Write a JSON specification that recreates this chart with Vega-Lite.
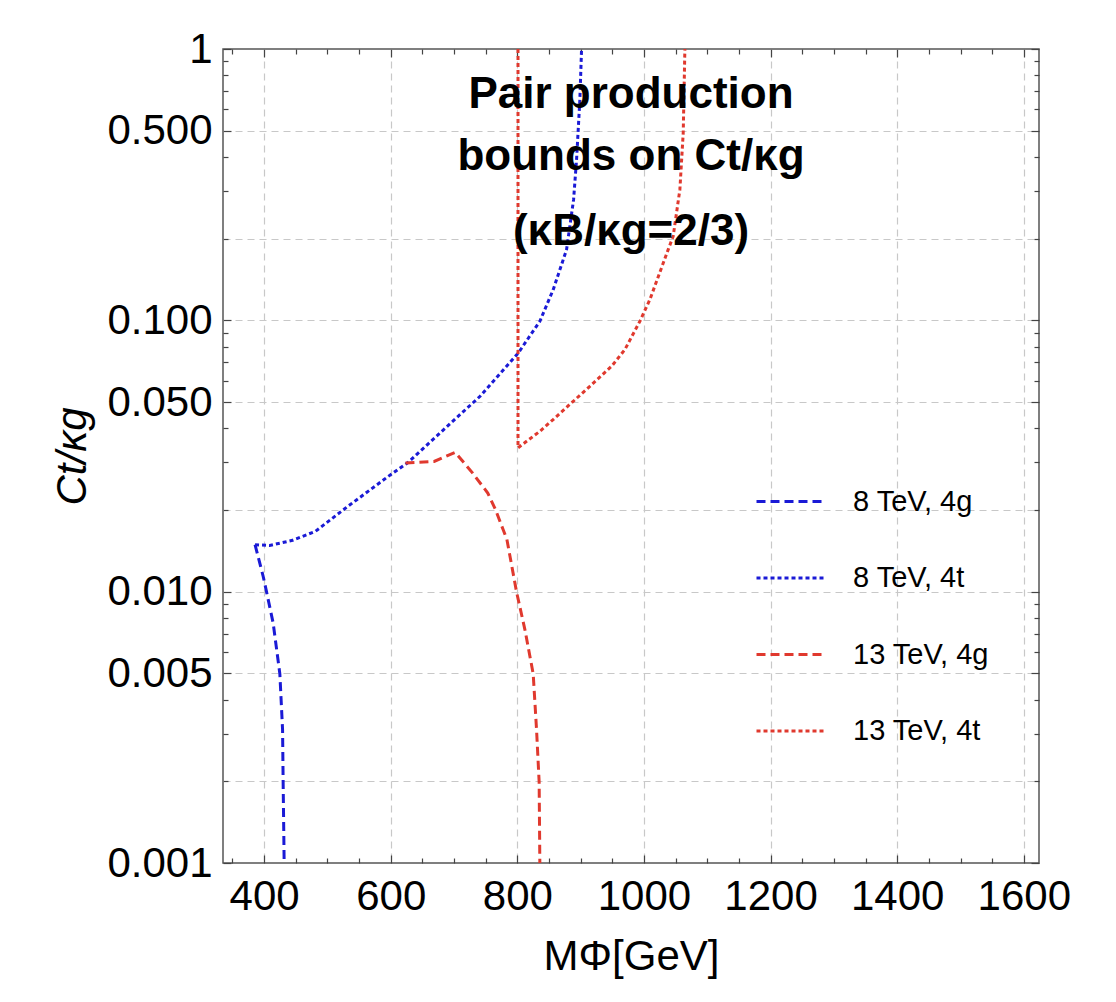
{
  "$schema": "https://vega.github.io/schema/vega-lite/v6.json",
  "autosize": {"type": "none"},
  "padding": {"left": 223, "top": 49, "right": 77, "bottom": 139},
  "width": 816,
  "height": 814,
  "background": "white",
  "config": {
    "font": "Liberation Sans",
    "view": {"stroke": "#555555", "strokeWidth": 1.5},
    "axis": {"domain": false, "tickColor": "#444444", "tickWidth": 1.2, "labelColor": "black", "titleColor": "black", "labelFont": "Liberation Sans", "titleFont": "Liberation Sans"}
  },
  "title": {
    "text": ["Pair production", "bounds on Ct/κg"],
    "subtitle": "(κB/κg=2/3)",
    "anchor": "middle",
    "frame": "group",
    "font": "Liberation Sans",
    "subtitleFont": "Liberation Sans",
    "fontSize": 44,
    "subtitleFontSize": 44,
    "fontWeight": "bold",
    "subtitleFontWeight": "bold",
    "color": "black",
    "subtitleColor": "black",
    "lineHeight": 62,
    "subtitleLineHeight": 62,
    "subtitlePadding": 31,
    "offset": -226
  },
  "data": {
    "values": [
      {"s": "8 TeV, 4g", "i": 1, "m": 385.6, "c": 0.0149},
      {"s": "8 TeV, 4g", "i": 2, "m": 398.4, "c": 0.0114},
      {"s": "8 TeV, 4g", "i": 3, "m": 403.8, "c": 0.00998},
      {"s": "8 TeV, 4g", "i": 4, "m": 414.2, "c": 0.00767},
      {"s": "8 TeV, 4g", "i": 5, "m": 424.8, "c": 0.00498},
      {"s": "8 TeV, 4g", "i": 6, "m": 429.1, "c": 0.0031},
      {"s": "8 TeV, 4g", "i": 7, "m": 430.0, "c": 0.00199},
      {"s": "8 TeV, 4g", "i": 8, "m": 431.6, "c": 0.001},

      {"s": "8 TeV, 4t", "i": 1, "m": 385.6, "c": 0.0149},
      {"s": "8 TeV, 4t", "i": 2, "m": 408.7, "c": 0.0148},
      {"s": "8 TeV, 4t", "i": 3, "m": 444.9, "c": 0.01546},
      {"s": "8 TeV, 4t", "i": 4, "m": 481.2, "c": 0.0167},
      {"s": "8 TeV, 4t", "i": 5, "m": 529.5, "c": 0.0204},
      {"s": "8 TeV, 4t", "i": 6, "m": 596.1, "c": 0.0266},
      {"s": "8 TeV, 4t", "i": 7, "m": 626.2, "c": 0.0298},
      {"s": "8 TeV, 4t", "i": 8, "m": 680.7, "c": 0.039},
      {"s": "8 TeV, 4t", "i": 9, "m": 741.1, "c": 0.0525},
      {"s": "8 TeV, 4t", "i": 10, "m": 801.6, "c": 0.0759},
      {"s": "8 TeV, 4t", "i": 11, "m": 835.5, "c": 0.0992},
      {"s": "8 TeV, 4t", "i": 12, "m": 856.6, "c": 0.1297},
      {"s": "8 TeV, 4t", "i": 13, "m": 877.7, "c": 0.1822},
      {"s": "8 TeV, 4t", "i": 14, "m": 888.8, "c": 0.2785},
      {"s": "8 TeV, 4t", "i": 15, "m": 893.5, "c": 0.391},
      {"s": "8 TeV, 4t", "i": 16, "m": 898.7, "c": 0.65},
      {"s": "8 TeV, 4t", "i": 17, "m": 901.4, "c": 1.0},

      {"s": "13 TeV, 4g", "i": 1, "m": 623.2, "c": 0.0298},
      {"s": "13 TeV, 4g", "i": 2, "m": 668.6, "c": 0.0302},
      {"s": "13 TeV, 4g", "i": 3, "m": 701.9, "c": 0.0326},
      {"s": "13 TeV, 4g", "i": 4, "m": 729.1, "c": 0.0274},
      {"s": "13 TeV, 4g", "i": 5, "m": 753.2, "c": 0.0231},
      {"s": "13 TeV, 4g", "i": 6, "m": 765.3, "c": 0.0201},
      {"s": "13 TeV, 4g", "i": 7, "m": 777.6, "c": 0.0169},
      {"s": "13 TeV, 4g", "i": 8, "m": 783.4, "c": 0.0156},
      {"s": "13 TeV, 4g", "i": 9, "m": 798.7, "c": 0.00998},
      {"s": "13 TeV, 4g", "i": 10, "m": 811.9, "c": 0.00725},
      {"s": "13 TeV, 4g", "i": 11, "m": 825.0, "c": 0.00498},
      {"s": "13 TeV, 4g", "i": 12, "m": 830.3, "c": 0.0031},
      {"s": "13 TeV, 4g", "i": 13, "m": 834.4, "c": 0.00199},
      {"s": "13 TeV, 4g", "i": 14, "m": 835.5, "c": 0.001},

      {"s": "13 TeV, 4t", "i": 1, "m": 801.0, "c": 1.0},
      {"s": "13 TeV, 4t", "i": 2, "m": 801.0, "c": 0.0339},
      {"s": "13 TeV, 4t", "i": 3, "m": 835.5, "c": 0.039},
      {"s": "13 TeV, 4t", "i": 4, "m": 856.6, "c": 0.0431},
      {"s": "13 TeV, 4t", "i": 5, "m": 888.2, "c": 0.0503},
      {"s": "13 TeV, 4t", "i": 6, "m": 914.5, "c": 0.0571},
      {"s": "13 TeV, 4t", "i": 7, "m": 948.8, "c": 0.0677},
      {"s": "13 TeV, 4t", "i": 8, "m": 969.8, "c": 0.078},
      {"s": "13 TeV, 4t", "i": 9, "m": 993.5, "c": 0.0992},
      {"s": "13 TeV, 4t", "i": 10, "m": 1009.3, "c": 0.1192},
      {"s": "13 TeV, 4t", "i": 11, "m": 1038.2, "c": 0.1822},
      {"s": "13 TeV, 4t", "i": 12, "m": 1046.1, "c": 0.2039},
      {"s": "13 TeV, 4t", "i": 13, "m": 1056.7, "c": 0.3031},
      {"s": "13 TeV, 4t", "i": 14, "m": 1062.0, "c": 0.4914},
      {"s": "13 TeV, 4t", "i": 15, "m": 1064.6, "c": 1.0}
    ]
  },
  "layer": [
    {
      "mark": {"type": "line", "strokeWidth": 3, "clip": true},
      "encoding": {
        "x": {
          "field": "m", "type": "quantitative",
          "scale": {"domain": [335, 1624], "nice": false, "zero": false},
          "axis": {
            "orient": "bottom",
            "values": [350,400,450,500,550,600,650,700,750,800,850,900,950,1000,1050,1100,1150,1200,1250,1300,1350,1400,1450,1500,1550,1600],
            "labelExpr": "datum.value % 200 === 0 ? format(datum.value, 'd') : ''",
            "labelFontSize": 42,
            "labelPadding": 21,
            "labelFlush": false,
            "labelOverlap": false,
            "labelBound": false,
            "tickSize": {"condition": {"test": "datum.value % 200 === 0", "value": -8}, "value": -5},
            "grid": true,
            "gridColor": "#c8c8c8",
            "gridWidth": 1.2,
            "gridDash": [7, 5],
            "gridOpacity": {"condition": {"test": "datum.value % 200 === 0", "value": 1}, "value": 0},
            "title": "MΦ[GeV]",
            "titleFontSize": 42,
            "titleFontWeight": "normal",
            "titlePadding": 16
          }
        },
        "y": {
          "field": "c", "type": "quantitative",
          "scale": {"type": "log", "domain": [0.001, 1], "nice": false},
          "axis": {
            "orient": "left",
            "values": [0.001,0.002,0.003,0.004,0.005,0.006,0.007,0.008,0.009,0.01,0.02,0.03,0.04,0.05,0.06,0.07,0.08,0.09,0.1,0.2,0.3,0.4,0.5,0.6,0.7,0.8,0.9,1],
            "labelExpr": "indexof([0.001,0.005,0.01,0.05,0.1,0.5], datum.value) >= 0 ? format(datum.value, '.3f') : (datum.value === 1 ? '1' : '')",
            "labelFontSize": 42,
            "labelPadding": 19,
            "labelFlush": false,
            "labelOverlap": false,
            "labelBound": false,
            "tickSize": {"condition": {"test": "indexof([0.001,0.005,0.01,0.05,0.1,0.5,1], datum.value) >= 0", "value": -8}, "value": -5},
            "grid": true,
            "gridColor": "#c8c8c8",
            "gridWidth": 1.2,
            "gridDash": [7, 5],
            "gridOpacity": {"condition": {"test": "indexof([0.002,0.005,0.01,0.02,0.05,0.1,0.2,0.5], datum.value) >= 0", "value": 1}, "value": 0},
            "title": "Ct/κg",
            "titleFontSize": 42,
            "titleFontWeight": "normal",
            "titleFontStyle": "italic",
            "titlePadding": 12
          }
        },
        "color": {
          "field": "s", "type": "nominal",
          "scale": {"domain": ["8 TeV, 4g", "8 TeV, 4t", "13 TeV, 4g", "13 TeV, 4t"], "range": ["#1a1ad6", "#1a1ad6", "#e0392e", "#e0392e"]},
          "legend": {"orient": "none", "legendX": 532, "legendY": 416, "title": null, "symbolType": "stroke", "symbolSize": 4900, "symbolStrokeWidth": 3, "labelFontSize": 29, "labelFont": "Liberation Sans", "labelColor": "black", "rowPadding": 24.5, "labelOffset": 25, "labelLimit": 300}
        },
        "strokeDash": {
          "field": "s", "type": "nominal",
          "scale": {"domain": ["8 TeV, 4g", "8 TeV, 4t", "13 TeV, 4g", "13 TeV, 4t"], "range": [[9, 5], [4, 3], [9, 5], [4, 3]]},
          "legend": {"orient": "none", "legendX": 532, "legendY": 416, "title": null, "symbolType": "stroke", "symbolSize": 4900, "symbolStrokeWidth": 3, "labelFontSize": 29, "labelFont": "Liberation Sans", "labelColor": "black", "rowPadding": 24.5, "labelOffset": 25, "labelLimit": 300}
        },
        "order": {"field": "i", "type": "quantitative"}
      }
    },
    {
      "mark": {"type": "line", "opacity": 0},
      "encoding": {
        "x": {
          "field": "m", "type": "quantitative",
          "axis": {
            "orient": "top",
            "values": [350,400,450,500,550,600,650,700,750,800,850,900,950,1000,1050,1100,1150,1200,1250,1300,1350,1400,1450,1500,1550,1600],
            "labels": false, "grid": false, "title": null,
            "tickSize": {"condition": {"test": "datum.value % 200 === 0", "value": -8}, "value": -5}
          }
        },
        "y": {
          "field": "c", "type": "quantitative",
          "axis": {
            "orient": "right",
            "values": [0.001,0.002,0.003,0.004,0.005,0.006,0.007,0.008,0.009,0.01,0.02,0.03,0.04,0.05,0.06,0.07,0.08,0.09,0.1,0.2,0.3,0.4,0.5,0.6,0.7,0.8,0.9,1],
            "labels": false, "grid": false, "title": null,
            "tickSize": {"condition": {"test": "indexof([0.001,0.005,0.01,0.05,0.1,0.5,1], datum.value) >= 0", "value": -8}, "value": -5}
          }
        },
        "detail": {"field": "s", "type": "nominal"}
      }
    }
  ],
  "resolve": {"axis": {"x": "independent", "y": "independent"}}
}
